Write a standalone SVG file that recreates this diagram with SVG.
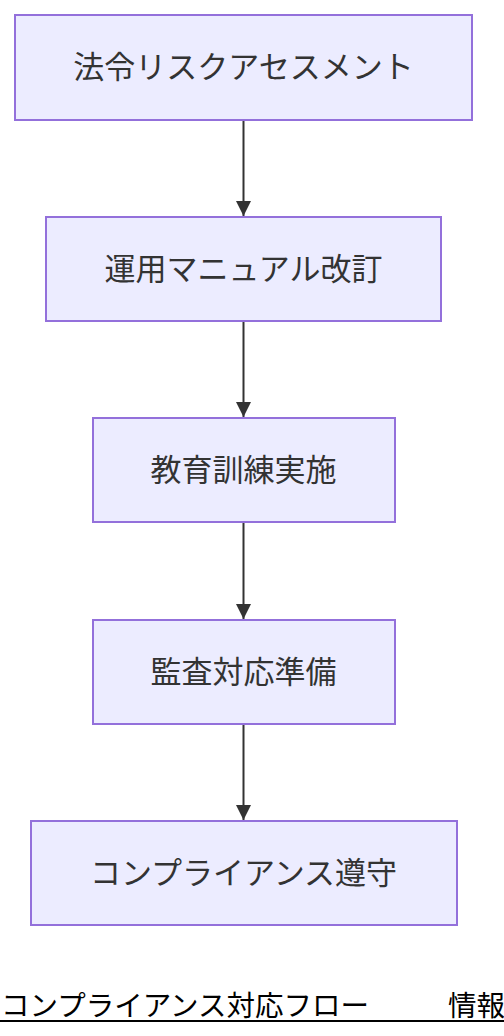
<svg xmlns="http://www.w3.org/2000/svg" width="504" height="1036" viewBox="0 0 504 1036">
<style>
.node rect{fill:#ECECFF;stroke:#9370DB;stroke-width:2}
.node text{font-family:"Noto Sans CJK JP","Noto Sans",sans-serif;font-size:31px;fill:#333;text-anchor:middle}
.edge{stroke:#333;stroke-width:2;fill:none}
.title{font-family:"Noto Sans CJK JP","Noto Sans",sans-serif;font-size:28.5px;fill:#000}
</style>
<defs>
<marker id="arrow" viewBox="0 0 10 10" refX="10" refY="5" markerWidth="15" markerHeight="16" markerUnits="userSpaceOnUse" orient="auto">
<path d="M0,0 L10,5 L0,10 z" fill="#333"/>
</marker>
</defs>
<rect width="504" height="1036" fill="#fff"/>
<g id="edges">
<path class="edge" d="M243.5,120 V216" marker-end="url(#arrow)"/>
<path class="edge" d="M243.5,321 V417" marker-end="url(#arrow)"/>
<path class="edge" d="M243.5,522 V619" marker-end="url(#arrow)"/>
<path class="edge" d="M243.5,724 V820" marker-end="url(#arrow)"/>
</g>
<g id="n1" class="node"><rect x="15" y="15" width="457" height="105"/><text x="243.5" y="78">法令リスクアセスメント</text></g>
<g id="n2" class="node"><rect x="46" y="217" width="395" height="104"/><text x="243.5" y="280">運用マニュアル改訂</text></g>
<g id="n3" class="node"><rect x="93" y="418" width="302" height="104"/><text x="243.5" y="481">教育訓練実施</text></g>
<g id="n4" class="node"><rect x="93" y="620" width="302" height="104"/><text x="243.5" y="683">監査対応準備</text></g>
<g id="n5" class="node"><rect x="31" y="821" width="426" height="104"/><text x="243.5" y="884">コンプライアンス遵守</text></g>
<g id="title">
<text class="title" x="1" y="1016" xml:space="preserve">コンプライアンス対応フロー　　<tspan x="448">情報</tspan></text>
<line x1="0" y1="1021" x2="504" y2="1021" stroke="#000" stroke-width="2"/>
</g>
</svg>
